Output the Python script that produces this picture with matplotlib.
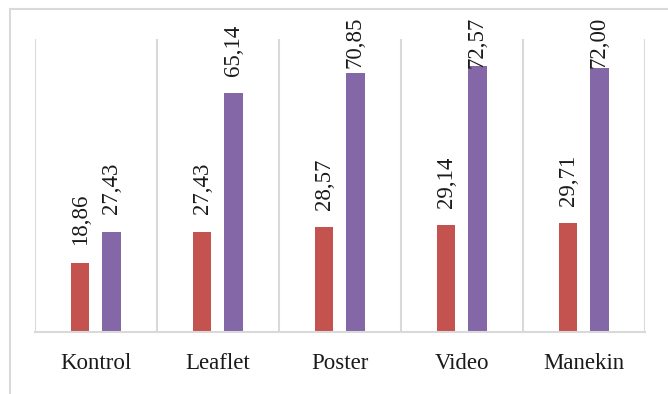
import matplotlib
matplotlib.use("Agg")
import matplotlib.pyplot as plt
from matplotlib.patches import Rectangle
import numpy as np

kategori = ["Kontrol", "Leaflet", "Poster", "Video", "Manekin"]
seri1 = [18.86, 27.43, 28.57, 29.14, 29.71]
seri2 = [27.43, 65.14, 70.85, 72.57, 72.00]

W, H = 668, 394
fig = plt.figure(figsize=(W / 100, H / 100), dpi=100)
# outer chart border (only top and left visible)
fig.patches.append(Rectangle((10 / W, -0.1), 1.2, 1 - 9 / H + 0.1, transform=fig.transFigure,
                             fill=False, edgecolor="#d9d9d9", linewidth=1.5))

ax = fig.add_axes([35 / W, 1 - 332 / H, (645 - 35) / W, (332 - 39) / H])
x = np.arange(len(kategori))
lebar = 0.148
ax.bar(x - 0.13, seri1, lebar, color="#c4524f")
ax.bar(x + 0.127, seri2, lebar, color="#8467a6")

ax.set_xlim(-0.5, len(kategori) - 0.5)
ax.set_ylim(0, 80)

for xi in np.arange(len(kategori) + 1) - 0.5:
    ax.axvline(xi, color="#d9d9d9", linewidth=1.5, zorder=0)

for s in ["top", "right", "left"]:
    ax.spines[s].set_visible(False)
ax.spines["bottom"].set_color("#d9d9d9")
ax.spines["bottom"].set_linewidth(1.5)
ax.set_yticks([])
ax.set_xticks(x)
ax.set_xticklabels(kategori, fontfamily="Liberation Serif", fontsize=16.5, color="#1a1a1a")
ax.tick_params(axis="x", length=0, pad=15)

batas = 72.0
for xs, vals in [(x - 0.13, seri1), (x + 0.127, seri2)]:
    for xi, v in zip(xs, vals):
        ax.text(xi, min(v + 4.8, batas), f"{v:.2f}".replace(".", ","),
                rotation=90, ha="center", va="bottom", fontsize=16.5,
                fontfamily="Liberation Serif", color="#1a1a1a", clip_on=False)

fig.savefig("out.png", dpi=100)
